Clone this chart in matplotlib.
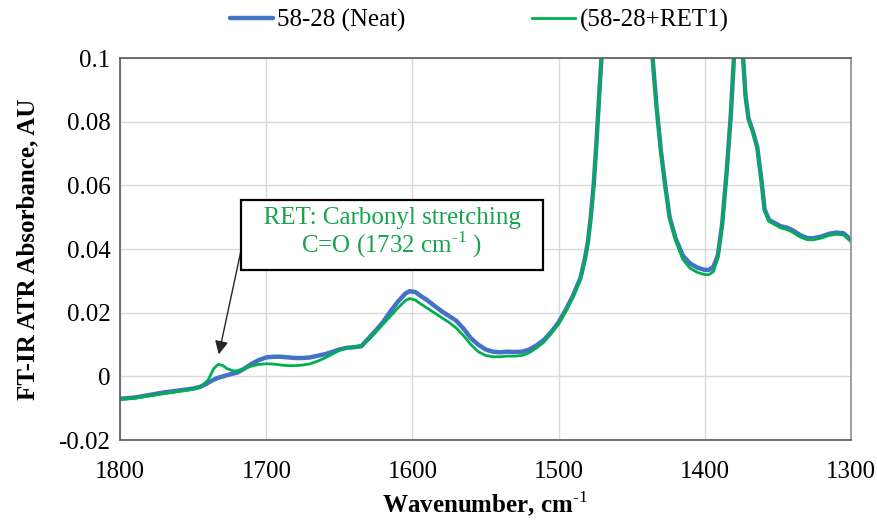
import matplotlib
matplotlib.use('Agg')
import matplotlib.pyplot as plt
from matplotlib.ticker import FuncFormatter

plt.rcParams['font.family'] = ['Liberation Serif', 'DejaVu Serif']
plt.rcParams['mathtext.fontset'] = 'custom'
plt.rcParams['mathtext.rm'] = 'Liberation Serif'
plt.rcParams['mathtext.bf'] = 'Liberation Serif:bold'

# wavenumber (cm-1) and absorbance
wn = [1800, 1790, 1780, 1770, 1760, 1750, 1745, 1740, 1736, 1733, 1730, 1727, 1723,
      1720, 1715, 1710, 1705, 1700, 1695, 1690, 1685, 1680, 1675, 1670, 1665, 1660,
      1655, 1650, 1645, 1640, 1635, 1630, 1625, 1620, 1615, 1610, 1605, 1602, 1598,
      1595, 1590, 1585, 1580, 1575, 1570, 1565, 1560, 1555, 1550, 1545, 1540, 1535,
      1530, 1525, 1520, 1515, 1510, 1505, 1500, 1495, 1490, 1485, 1482, 1480, 1478,
      1476, 1474, 1472, 1470, 1466, 1450, 1440, 1436, 1433, 1430, 1427, 1424, 1420,
      1415, 1410, 1405, 1400, 1397, 1394, 1391, 1388, 1385, 1382, 1380, 1378, 1376,
      1374, 1372, 1370, 1367, 1364, 1361, 1359, 1356, 1352, 1348, 1344, 1340, 1335,
      1330, 1326, 1320, 1315, 1310, 1305, 1300]

neat = [-0.0070, -0.0066, -0.0058, -0.0050, -0.0044, -0.0038, -0.0032, -0.0020, -0.0010,
        -0.0004, 0.0000, 0.0004, 0.0009, 0.0012, 0.0025, 0.0040, 0.0052, 0.0060, 0.0062,
        0.0062, 0.0060, 0.0058, 0.0058, 0.0060, 0.0065, 0.0070, 0.0077, 0.0085, 0.0090,
        0.0092, 0.0095, 0.0120, 0.0145, 0.0172, 0.0205, 0.0235, 0.0260, 0.0268, 0.0265,
        0.0255, 0.0240, 0.0222, 0.0205, 0.0190, 0.0175, 0.0150, 0.0120, 0.0100, 0.0085,
        0.0078, 0.0076, 0.0078, 0.0077, 0.0078, 0.0085, 0.0098, 0.0115, 0.0140, 0.0170,
        0.0210, 0.0255, 0.0310, 0.0370, 0.0420, 0.0500, 0.0600, 0.0740, 0.0900, 0.1050,
        0.1400, 0.2000, 0.1400, 0.1020, 0.0850, 0.0710, 0.0600, 0.0500, 0.0435, 0.0380,
        0.0355, 0.0342, 0.0335, 0.0335, 0.0345, 0.0380, 0.0480, 0.0640, 0.0830, 0.1000,
        0.1300, 0.1300, 0.1020, 0.0880, 0.0810, 0.0770, 0.0720, 0.0610, 0.0525, 0.0492,
        0.0482, 0.0472, 0.0468, 0.0460, 0.0445, 0.0435, 0.0434, 0.0440, 0.0448, 0.0452,
        0.0450, 0.0430]

ret1 = [-0.0072, -0.0068, -0.0061, -0.0054, -0.0047, -0.0040, -0.0032, -0.0012, 0.0025,
        0.0038, 0.0035, 0.0025, 0.0018, 0.0018, 0.0025, 0.0033, 0.0038, 0.0040, 0.0039,
        0.0036, 0.0034, 0.0034, 0.0036, 0.0040, 0.0048, 0.0058, 0.0070, 0.0082, 0.0090,
        0.0093, 0.0098, 0.0115, 0.0140, 0.0165, 0.0190, 0.0215, 0.0238, 0.0245, 0.0240,
        0.0230, 0.0215, 0.0200, 0.0185, 0.0170, 0.0152, 0.0128, 0.0100, 0.0078, 0.0066,
        0.0062, 0.0062, 0.0064, 0.0064, 0.0066, 0.0075, 0.0090, 0.0108, 0.0135, 0.0165,
        0.0205, 0.0250, 0.0305, 0.0365, 0.0415, 0.0495, 0.0595, 0.0735, 0.0895, 0.1045,
        0.1400, 0.2000, 0.1400, 0.1015, 0.0845, 0.0705, 0.0595, 0.0495, 0.0428, 0.0368,
        0.0340, 0.0327, 0.0320, 0.0320, 0.0330, 0.0370, 0.0475, 0.0635, 0.0825, 0.1000,
        0.1300, 0.1300, 0.1015, 0.0875, 0.0805, 0.0765, 0.0715, 0.0605, 0.0520, 0.0487,
        0.0477, 0.0467, 0.0462, 0.0454, 0.0439, 0.0430, 0.0429, 0.0435, 0.0443, 0.0447,
        0.0445, 0.0424]

yticks = [-0.02, 0, 0.02, 0.04, 0.06, 0.08, 0.1]
xticks = [1800, 1700, 1600, 1500, 1400, 1300]

fig, ax = plt.subplots(figsize=(8.78, 5.24), dpi=100)
fig.subplots_adjust(left=0.137, right=0.969, top=0.889, bottom=0.160)

ax.plot(wn, neat, color='#4472C4', lw=3.2, label='58-28 (Neat)', solid_capstyle='round')
ax.plot(wn, ret1, color='#00B050', lw=2.0, label='(58-28+RET1)')

ax.set_xlim(1800, 1300)
ax.set_ylim(-0.02, 0.1)
ax.set_xticks(xticks)
ax.set_yticks(yticks)
ax.yaxis.set_major_formatter(FuncFormatter(lambda v, p: '%g' % round(v, 3)))
ax.tick_params(length=0, labelsize=18)
ax.tick_params(axis='x', pad=15)
ax.tick_params(axis='y', pad=7)
ax.grid(True, color='#d9d9d9', lw=1)
ax.set_axisbelow(True)
for s in ax.spines.values():
    s.set_color('#595959')
    s.set_linewidth(1.2)
ax.spines['right'].set_color('#909090')

ax.set_ylabel('FT-IR ATR Absorbance, AU', fontsize=18, fontweight='bold', labelpad=14)
ax.set_xlabel(r'Wavenumber, cm$^{\mathbf{\text{-1}}}$', fontsize=18, fontweight='bold', labelpad=5)

fig.legend(*ax.get_legend_handles_labels(), loc='center', bbox_to_anchor=(479 / 878, 0.961),
           ncol=2, frameon=False, fontsize=18, handlelength=1.72, handletextpad=0.16,
           columnspacing=5.1, borderaxespad=0, borderpad=0)

ax.annotate('', xy=(1733, 0.0061), xytext=(1716, 0.0425),
            arrowprops=dict(arrowstyle='-|>', color='#262626', lw=1, mutation_scale=20))
ax.text(1614, 0.0449, '  RET: Carbonyl stretching  \nC=O (1732 cm$^{\\text{-1}}$ )',
        color='#16A34F', fontsize=18, ha='center', va='center', linespacing=1.05,
        bbox=dict(boxstyle='square,pad=0.38', fc='white', ec='black', lw=1.6))

fig.savefig('out.png', dpi=100)
